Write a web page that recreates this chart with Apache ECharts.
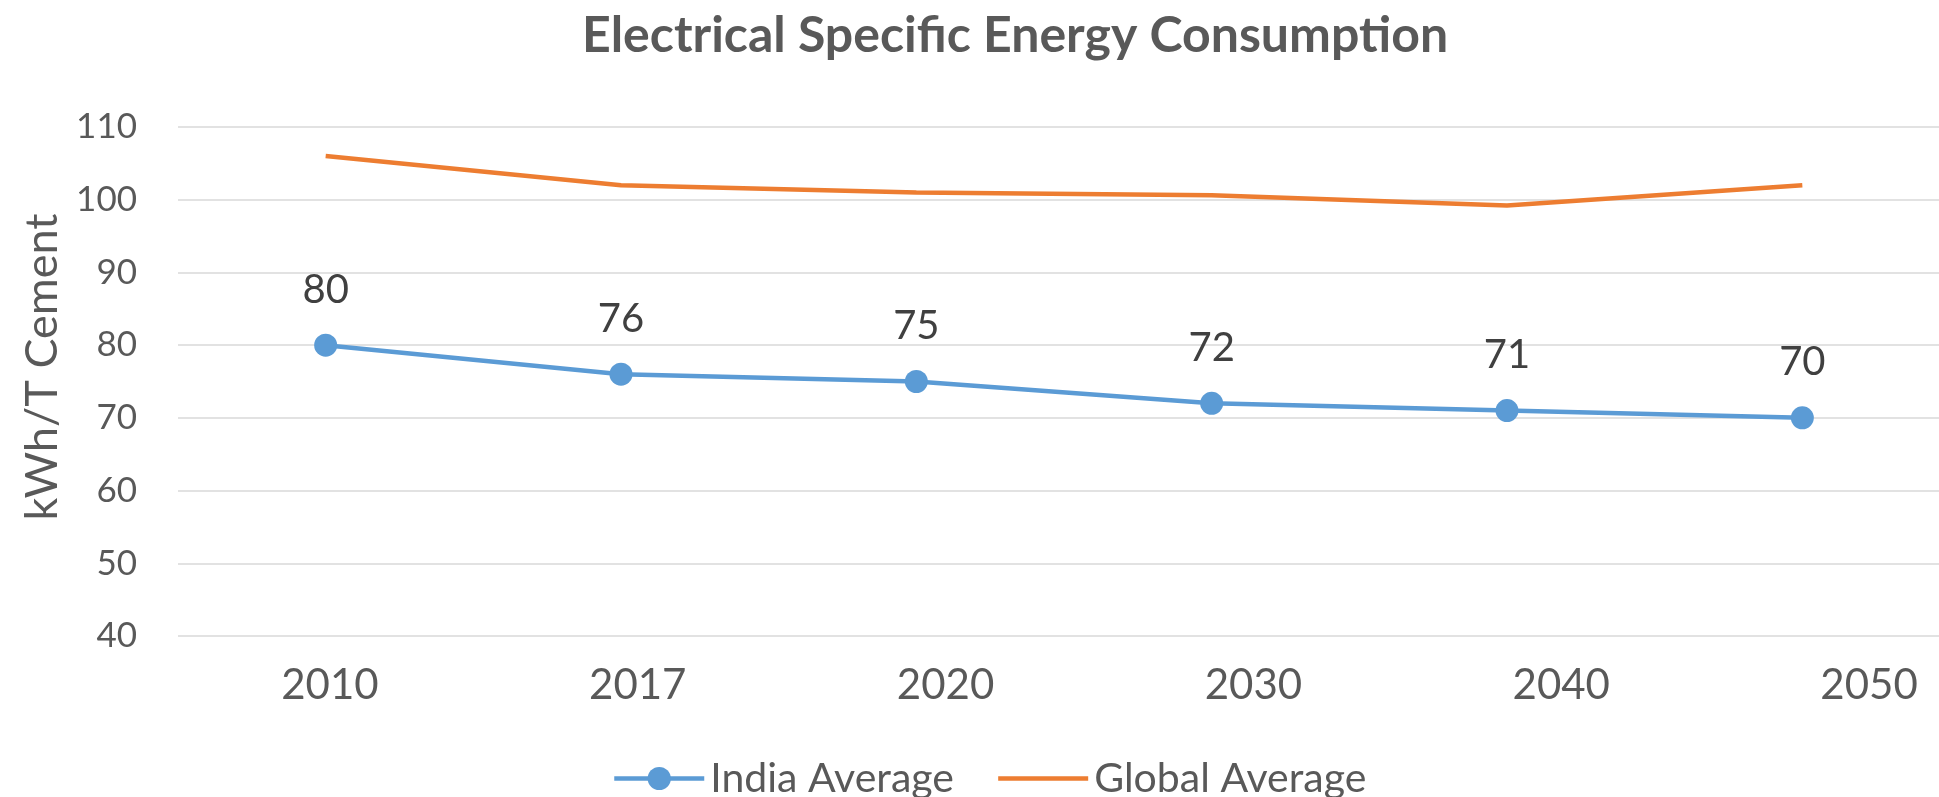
<!DOCTYPE html>
<html>
<head>
<meta charset="utf-8">
<script src="https://cdn.jsdelivr.net/npm/echarts@6/dist/echarts.min.js"></script>
<style>
html,body{margin:0;padding:0;background:#fff;}
#chart{width:1939px;height:797px;}
</style>
</head>
<body>
<div id="chart"></div>
<script>
const categories = ['2010', '2017', '2020', '2030', '2040', '2050'];
const indiaAverage = [80, 76, 75, 72, 71, 70];
const globalAverage = [106, 102, 101, 100.6, 99.2, 102];
const titleText = 'Electrical Specific Energy Consumption';
const yAxisName = 'kWh/T Cement';

const FONT = 'Lato';
const GRAY = '#595959';

const chart = echarts.init(document.getElementById('chart'));
chart.setOption({
  backgroundColor: '#ffffff',
  animation: false,
  title: {
    text: titleText,
    left: 582,
    top: 11,
    padding: 0,
    textStyle: { fontFamily: FONT, fontWeight: 'bold', fontSize: 50, color: GRAY }
  },
  legend: {
    left: 612,
    top: 758,
    padding: 0,
    itemWidth: 90,
    itemHeight: 29,
    itemGap: 42,
    textStyle: { fontFamily: FONT, fontSize: 41, color: GRAY, padding: [0, 0, 0, 1] },
    data: [
      { name: 'India Average', lineStyle: { width: 4.5 } },
      { name: 'Global Average', itemStyle: { opacity: 0 }, lineStyle: { width: 4.5 } }
    ]
  },
  grid: [
    { left: 178, width: 1772, top: 127, bottom: 161, containLabel: false, outerBoundsMode: 'none' },
    { left: 176, width: 1847, top: 127, bottom: 161, containLabel: false, outerBoundsMode: 'none' }
  ],
  xAxis: [
    {
      type: 'category', gridIndex: 0, data: categories, boundaryGap: true,
      axisLine: { show: false }, axisTick: { show: false }, axisLabel: { show: false }, splitLine: { show: false }
    },
    {
      type: 'category', gridIndex: 1, data: categories, boundaryGap: true,
      axisLine: { show: false }, axisTick: { show: false }, splitLine: { show: false },
      axisLabel: { show: true, margin: 28, fontFamily: FONT, fontSize: 42, color: GRAY }
    }
  ],
  yAxis: [
    {
      type: 'value', gridIndex: 0, min: 40, max: 110, interval: 10,
      name: yAxisName, nameLocation: 'middle', nameGap: 112,
      nameTextStyle: { fontFamily: FONT, fontSize: 45, color: GRAY, padding: [0, 0, 0, 29] },
      axisLine: { show: false }, axisTick: { show: false },
      axisLabel: { margin: 41, fontFamily: FONT, fontSize: 35, color: GRAY },
      splitLine: { show: true, lineStyle: { color: '#d9d9d9', width: 1.5 } }
    },
    {
      type: 'value', gridIndex: 1, min: 40, max: 110, show: false
    }
  ],
  series: [
    {
      name: 'India Average', type: 'line', xAxisIndex: 0, yAxisIndex: 0,
      data: indiaAverage,
      symbol: 'circle', symbolSize: 23, showSymbol: true,
      lineStyle: { color: '#5B9BD5', width: 4.5 },
      itemStyle: { color: '#5B9BD5' },
      label: { show: true, position: 'top', distance: 24, fontFamily: FONT, fontSize: 40, color: '#404040' },
      z: 3
    },
    {
      name: 'Global Average', type: 'line', xAxisIndex: 0, yAxisIndex: 0,
      data: globalAverage,
      symbol: 'none',
      lineStyle: { color: '#ED7D31', width: 4.5 },
      itemStyle: { color: '#ED7D31' },
      z: 2
    }
  ]
});
</script>
</body>
</html>
